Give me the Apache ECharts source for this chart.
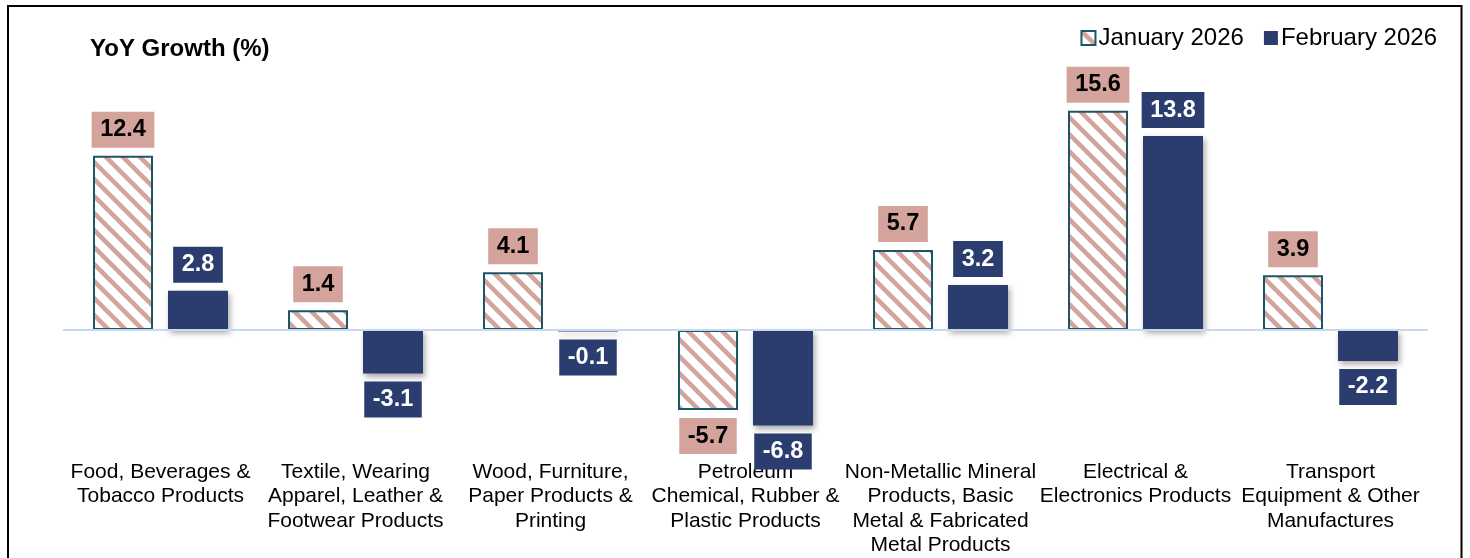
<!DOCTYPE html>
<html>
<head>
<meta charset="utf-8">
<script src="https://cdn.jsdelivr.net/npm/echarts@6/dist/echarts.min.js"></script>
<style>
  html, body { margin: 0; padding: 0; background: #fff; }
  #chart { width: 1470px; height: 558px; }
</style>
</head>
<body>
<div id="chart"></div>
<script>
const categories = [
  "Food, Beverages &\nTobacco Products",
  "Textile, Wearing\nApparel, Leather &\nFootwear Products",
  "Wood, Furniture,\nPaper Products &\nPrinting",
  "Petroleum\nChemical, Rubber &\nPlastic Products",
  "Non-Metallic Mineral\nProducts, Basic\nMetal & Fabricated\nMetal Products",
  "Electrical &\nElectronics Products",
  "Transport\nEquipment & Other\nManufactures"
];
const january2026 = [12.4, 1.4, 4.1, -5.7, 5.7, 15.6, 3.9];
const february2026 = [2.8, -3.1, -0.1, -6.8, 3.2, 13.8, -2.2];
const seriesNames = ["January 2026", "February 2026"];
const chartTitle = "YoY Growth (%)";

const FONT = "'Liberation Sans', Arial, Helvetica, sans-serif";
const ROSE = '#D4A39C';
const NAVY = '#2B3C6E';
const TEAL = '#1C5669';

// hatch pattern
function makeHatch() {
  const s = 17;
  const c = document.createElement('canvas');
  c.width = s; c.height = s;
  const ctx = c.getContext('2d');
  ctx.fillStyle = '#ffffff';
  ctx.fillRect(0, 0, s, s);
  ctx.strokeStyle = ROSE;
  ctx.lineWidth = 4.5;
  for (let k = -s; k <= s; k += s) {
    ctx.beginPath();
    ctx.moveTo(k - 2, -2);
    ctx.lineTo(k + s + 2, s + 2);
    ctx.stroke();
  }
  return c;
}
const hatch = makeHatch();

function withLabelPos(arr) {
  return arr.map(v => ({ value: v, label: { position: v >= 0 ? 'top' : 'bottom' } }));
}

const labelBase = {
  show: true,
  distance: 8,
  fontFamily: FONT,
  fontWeight: 'bold',
  fontSize: 23.5,
  lineHeight: 23,
  padding: [6.5, 8.5, 6.5, 8.5],
  formatter: p => p.value.toFixed(1)
};

const chart = echarts.init(document.getElementById('chart'), null, { renderer: 'canvas' });
chart.setOption({
  animation: false,
  backgroundColor: '#ffffff',
  title: {
    text: chartTitle,
    left: 90,
    top: 37,
    padding: 0,
    textStyle: { fontFamily: FONT, fontWeight: 'bold', fontSize: 24, lineHeight: 24, color: '#000' }
  },
  legend: {
    data: seriesNames,
    right: 33,
    top: 26,
    padding: 0,
    icon: 'rect',
    itemWidth: 14,
    itemHeight: 14,
    itemGap: 20,
    textStyle: { fontFamily: FONT, fontSize: 24, lineHeight: 24, color: '#000', padding: [0, 0, 0, -2] }
  },
  grid: { left: 63, right: 42, top: 77, bottom: 101.5 },
  xAxis: {
    type: 'category',
    data: categories,
    axisLine: { show: false, onZero: false },
    axisTick: { show: false },
    axisLabel: {
      interval: 0,
      margin: 3,
      fontFamily: FONT,
      fontSize: 21,
      lineHeight: 24.5,
      color: '#000',
      align: 'center'
    }
  },
  yAxis: {
    type: 'value',
    min: -9,
    max: 18,
    show: false,
    splitLine: { show: false }
  },
  graphic: [{
    type: 'rect',
    shape: { x: 8, y: 6, width: 1453.5, height: 620 },
    style: { fill: 'none', stroke: '#000', lineWidth: 2 },
    silent: true,
    z: 100
  }],
  series: [
    {
      name: seriesNames[0],
      type: 'bar',
      barWidth: 60,
      barGap: '25%',
      data: withLabelPos(january2026),
      itemStyle: {
        color: { image: hatch, repeat: 'repeat' },
        borderColor: TEAL,
        borderWidth: 2
      },
      label: Object.assign({}, labelBase, { color: '#000', backgroundColor: ROSE }),
      markLine: {
        silent: true,
        symbol: 'none',
        label: { show: false },
        lineStyle: { color: '#C6D9F0', width: 2, type: 'solid' },
        data: [{ yAxis: 0 }],
        z: 10
      }
    },
    {
      name: seriesNames[1],
      type: 'bar',
      barWidth: 60,
      barGap: '25%',
      data: withLabelPos(february2026),
      itemStyle: {
        color: NAVY,
        shadowColor: 'rgba(0,0,0,0.35)',
        shadowBlur: 6,
        shadowOffsetX: 2,
        shadowOffsetY: 3
      },
      label: Object.assign({}, labelBase, { color: '#fff', backgroundColor: NAVY })
    }
  ]
});
</script>
</body>
</html>
